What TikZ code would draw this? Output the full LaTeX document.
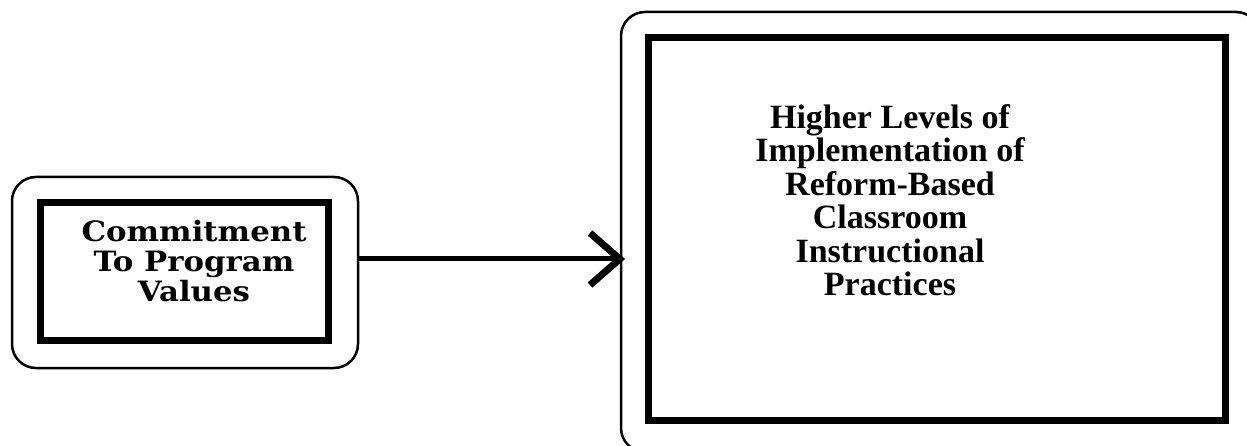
\documentclass[tikz,border=0pt]{standalone}
\usepackage{fontspec}
\setmainfont{Liberation Serif}
\newfontfamily\schoolfont[FakeStretch=1.1]{DejaVu Serif}
\begin{document}
\begin{tikzpicture}[x=1pt,y=-1pt,
  outerbox/.style={draw,line width=2.5pt,rounded corners=24pt,inner sep=0pt},
  innerbox/.style={draw,line width=7pt,inner sep=0pt},
  labeltext/.style={inner sep=0pt,align=center},
  link/.style={line width=5pt}]
\useasboundingbox (0,0) rectangle (1247,446);
\clip (0,0) rectangle (1247,446);

% left element: commitment
\node[outerbox,minimum width=346pt,minimum height=191pt] (lout) at (185,272.5) {};
\node[innerbox,minimum width=288pt,minimum height=137pt] (lin) at (184,271.5) {};
\node[labeltext,font={\schoolfont\bfseries\fontsize{28}{30}\selectfont}] (ltext) at (194,261)
  {Commitment\\To Program\\Values};

% right element: outcome
\node[outerbox,minimum width=639pt,minimum height=440pt] (rout) at (940.5,232) {};
\node[innerbox,minimum width=577pt,minimum height=382pt] (rin) at (936.5,229) {};
\node[labeltext,font={\bfseries\fontsize{34}{33.5}\selectfont}] (rtext) at (890,200)
  {Higher Levels of\\Implementation of\\Reform-Based\\Classroom\\Instructional\\Practices};

% connector with open chevron head
\coordinate (tip) at (rout.west |- 0,259);
\draw[link] (lout.east |- 0,259) -- (tip);
\draw[line width=7pt,line join=miter] (590,233) -- (tip) -- (590,285);
\end{tikzpicture}
\end{document}
